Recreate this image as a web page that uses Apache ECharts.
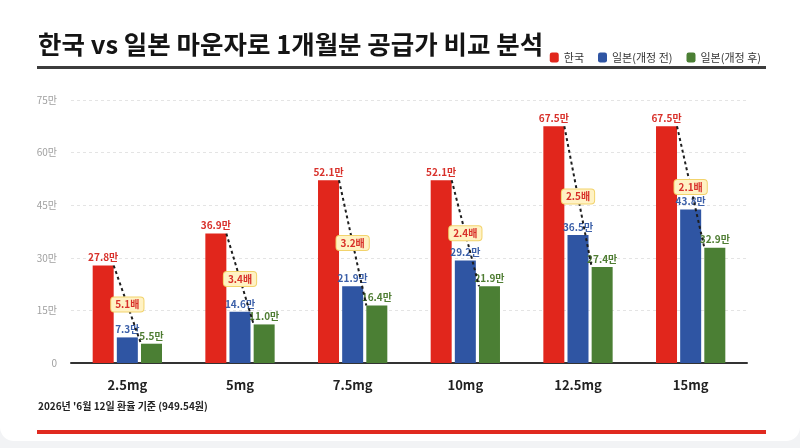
<!DOCTYPE html>
<html><head><meta charset="utf-8">
<script src="https://cdn.jsdelivr.net/npm/echarts@6/dist/echarts.min.js"></script>
<style>
html,body{margin:0;padding:0;background:#f2f3f5;}
#card{position:absolute;left:0;top:0;width:800px;height:441px;background:#fff;border-radius:0 0 14px 14px;overflow:hidden;}
#chart{width:800px;height:448px;}
</style></head>
<body><div id="card"><div id="chart"></div></div>
<script>
const categories = ['2.5mg','5mg','7.5mg','10mg','12.5mg','15mg'];
const korea = [27.8, 36.9, 52.1, 52.1, 67.5, 67.5];
const japanBefore = [7.3, 14.6, 21.9, 29.2, 36.5, 43.8];
const japanAfter = [5.5, 11.0, 16.4, 21.9, 27.4, 32.9];
const ratios = ['5.1', '3.4', '3.2', '2.4', '2.5', '2.1'];
const seriesNames = ['한국', '일본(개정 전)', '일본(개정 후)'];
const titleText = '한국 vs 일본 마운자로 1개월분 공급가 비교 분석';
const footnote = "2026년 '6월 12일 환율 기준 (949.54원)";

const FONT = '"Noto Sans CJK KR", "Noto Sans", sans-serif';
const BAR_W = 21, GAP = 0.15;
const colors = ['#e1261c', '#2f55a3', '#4b7f34'];
const labelColors = ['#d8302a', '#3b5fa8', '#4f7d33'];

const chart = echarts.init(document.getElementById('chart'), null, {renderer: 'canvas'});
const fmt = p => p.value.toFixed(1) + '만';
function barSeries(idx, data) {
  return {
    name: seriesNames[idx], type: 'bar', data: data,
    barWidth: BAR_W, barGap: (GAP * 100) + '%',
    itemStyle: {color: colors[idx]},
    label: {show: true, position: 'top', distance: 3, formatter: fmt,
      color: labelColors[idx], fontSize: 10, fontWeight: 'bold', fontFamily: FONT},
    z: 2
  };
}
const off = BAR_W / 2 + BAR_W * GAP;

chart.setOption({
  backgroundColor: 'transparent',
  textStyle: {fontFamily: FONT},
  title: {text: titleText, left: 33, top: 27,
    textStyle: {fontSize: 25.5, fontWeight: 'bold', color: '#141414', fontFamily: FONT}},
  legend: {right: 34, top: 47, itemWidth: 9, itemHeight: 10, itemGap: 14,
    icon: 'roundRect',
    textStyle: {fontSize: 11, color: '#333', fontFamily: FONT},
    data: seriesNames},
  grid: {left: 71, right: 53, top: 100, bottom: 85},
  xAxis: {type: 'category', data: categories,
    axisLine: {lineStyle: {color: '#333', width: 2}},
    axisTick: {show: false},
    axisLabel: {fontSize: 13, fontWeight: 'bold', color: '#222', margin: 16, fontFamily: FONT}},
  yAxis: {type: 'value', min: 0, max: 75, interval: 15,
    axisLine: {show: false}, axisTick: {show: false},
    axisLabel: {fontSize: 10, color: '#a0a0a0', margin: 14, fontFamily: FONT,
      formatter: v => v === 0 ? '0' : v + '만'},
    splitLine: {lineStyle: {color: '#e4e4e4', type: [3, 3]}}},
  graphic: [
    {type: 'rect', left: 37, top: 66, shape: {width: 729, height: 3}, style: {fill: '#3c3c3c'}},
    {type: 'text', left: 38, top: 401, style: {text: footnote, fill: '#222', font: 'bold 10px ' + FONT}},
    {type: 'rect', left: 37, top: 430, shape: {width: 729, height: 4}, style: {fill: '#e02a20'}}
  ],
  series: [
    barSeries(0, korea),
    barSeries(1, japanBefore),
    barSeries(2, japanAfter),
    {
      type: 'custom', z: 10,
      data: categories.map((c, i) => [i, korea[i], japanAfter[i]]),
      encode: {x: 0, y: [1, 2]},
      renderItem: function (params, api) {
        const i = api.value(0);
        const p1 = api.coord([i, api.value(1)]);
        const p2 = api.coord([i, api.value(2)]);
        const x1 = p1[0] - off, x2 = p2[0] + off;
        return {type: 'group', children: [
          {type: 'line', shape: {x1: x1, y1: p1[1], x2: x2, y2: p2[1]},
            style: {stroke: '#1e1e1e', lineWidth: 2, lineDash: [3, 3]}},
          {type: 'text', x: (x1 + x2) / 2, y: (p1[1] + p2[1]) / 2,
            style: {text: ratios[i] + '배', align: 'center', verticalAlign: 'middle',
              fill: '#d8302a', font: 'bold 10px ' + FONT,
              backgroundColor: '#fff2c4', borderColor: '#f2d36c', borderWidth: 1,
              borderRadius: 3, padding: [2, 4]}}
        ]};
      }
    }
  ]
});
</script></body></html>
